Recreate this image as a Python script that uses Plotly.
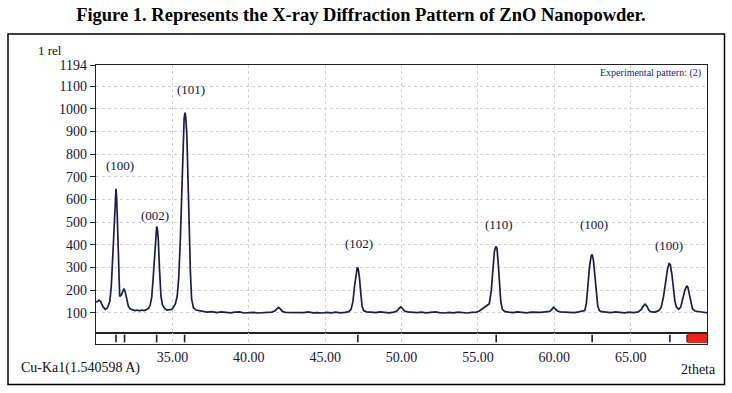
import plotly.graph_objects as go
from plotly.subplots import make_subplots

# ---- data ----
two_theta = [30.00, 30.10, 30.20, 30.30, 30.45, 30.60, 30.75, 30.90, 31.00, 31.10, 31.18, 31.25, 31.31, 31.36,
             31.42, 31.48, 31.55, 31.65, 31.75, 31.83, 31.92, 32.02, 32.12, 32.25, 32.40, 32.55, 32.70, 32.85,
             33.00, 33.15, 33.30, 33.45, 33.55, 33.65, 33.75, 33.85, 33.93, 33.97, 34.02, 34.08, 34.16, 34.25,
             34.35, 34.50, 34.65, 34.80, 34.95, 35.05, 35.20, 35.32, 35.42, 35.52, 35.62, 35.70, 35.77, 35.83,
             35.88, 35.95, 36.02, 36.10, 36.18, 36.26, 36.38, 36.55, 36.75, 37.00, 37.30, 37.60, 37.90, 38.20,
             38.50, 38.80, 39.10, 39.40, 39.70, 40.00, 40.30, 40.60, 40.90, 41.20, 41.50, 41.70, 41.85, 41.95,
             42.05, 42.20, 42.40, 42.70, 43.00, 43.30, 43.60, 43.90, 44.20, 44.50, 44.80, 45.10, 45.40, 45.70,
             46.00, 46.30, 46.55, 46.70, 46.82, 46.93, 47.03, 47.10, 47.16, 47.24, 47.33, 47.42, 47.52, 47.70,
             48.00, 48.30, 48.60, 48.90, 49.20, 49.50, 49.70, 49.85, 49.95, 50.05, 50.20, 50.40, 50.70, 51.00,
             51.30, 51.60, 51.90, 52.20, 52.50, 52.80, 53.10, 53.40, 53.70, 54.00, 54.30, 54.60, 54.90, 55.10,
             55.30, 55.50, 55.75, 55.88, 55.98, 56.08, 56.18, 56.25, 56.33, 56.42, 56.50, 56.60, 56.75, 57.00,
             57.30, 57.60, 57.90, 58.20, 58.50, 58.80, 59.10, 59.40, 59.70, 59.85, 59.95, 60.05, 60.20, 60.40,
             60.70, 61.00, 61.30, 61.60, 61.85, 62.00, 62.10, 62.20, 62.32, 62.42, 62.48, 62.56, 62.65, 62.75,
             62.85, 62.95, 63.10, 63.40, 63.70, 64.00, 64.30, 64.60, 64.90, 65.20, 65.50, 65.70, 65.85, 65.95,
             66.08, 66.20, 66.35, 66.60, 66.85, 67.00, 67.15, 67.30, 67.42, 67.52, 67.60, 67.70, 67.80, 67.90,
             68.00, 68.15, 68.28, 68.40, 68.55, 68.68, 68.75, 68.85, 68.95, 69.05, 69.20, 69.50, 69.80, 70.00]
intensity = [148, 150, 156, 150, 128, 115, 122, 150, 215, 350, 480, 600, 647, 600,
             430, 260, 172, 178, 200, 207, 190, 155, 128, 117, 113, 110, 112, 109,
             112, 110, 114, 120, 135, 170, 260, 380, 470, 481, 470, 420, 290, 175,
             135, 118, 112, 113, 115, 122, 140, 175, 260, 420, 650, 870, 960, 984,
             960, 880, 690, 460, 280, 160, 122, 112, 108, 106, 103, 105, 101, 104,
             102, 100, 103, 104, 99, 101, 102, 99, 101, 100, 103, 108, 118, 124,
             118, 106, 102, 101, 103, 100, 101, 104, 100, 101, 99, 102, 100, 103,
             100, 102, 105, 115, 150, 220, 280, 298, 296, 260, 190, 130, 110, 104,
             103, 101, 104, 102, 100, 103, 108, 120, 126, 120, 108, 104, 102, 101,
             103, 100, 102, 104, 101, 99, 102, 100, 103, 101, 99, 102, 103, 108,
             118, 130, 140, 200, 300, 370, 393, 385, 320, 220, 150, 115, 106, 103,
             101, 104, 102, 100, 103, 101, 102, 104, 106, 115, 124, 118, 108, 104,
             102, 103, 101, 104, 106, 110, 140, 220, 310, 352, 358, 335, 270, 190,
             130, 110, 105, 103, 101, 104, 102, 100, 103, 101, 104, 115, 132, 138,
             128, 110, 104, 103, 110, 125, 170, 240, 295, 317, 312, 270, 200, 150,
             125, 115, 125, 160, 200, 219, 212, 180, 140, 118, 108, 104, 103, 100]

ref_peaks = [31.31, 31.87, 33.97, 35.80, 47.14, 56.20, 62.48, 67.57, 68.70]
red_bar_range = [68.72, 70.0]

hkl_labels = ["(100)", "(002)", "(101)", "(102)", "(110)", "(100)", "(100)"]
hkl_x = [31.57, 33.88, 36.20, 47.22, 56.35, 62.57, 67.53]
hkl_y = [750, 530, 1087, 404, 490, 490, 398]

x_ticks = [35, 40, 45, 50, 55, 60, 65]
x_ticktext = ["35.00", "40.00", "45.00", "50.00", "55.00", "60.00", "65.00"]
y_ticks = [100, 200, 300, 400, 500, 600, 700, 800, 900, 1000, 1100, 1194]

# ---- figure ----
SERIF = "Liberation Serif"
INK = "#15153a"
LINE = "#1c1c4f"
GRID = "#d2d2d2"

fig = make_subplots(rows=2, cols=1, shared_xaxes=True, vertical_spacing=0,
                    row_heights=[0.9606, 0.0394])

fig.add_trace(go.Scatter(x=two_theta, y=intensity, mode="lines",
                         line=dict(color=LINE, width=1.7), hoverinfo="skip",
                         showlegend=False), row=1, col=1)

stick_x, stick_y = [], []
for p in ref_peaks:
    stick_x += [p, p, None]
    stick_y += [0.15, 0.85, None]
fig.add_trace(go.Scatter(x=stick_x, y=stick_y, mode="lines",
                         line=dict(color="#1a1a40", width=1.6),
                         hoverinfo="skip", showlegend=False), row=2, col=1)

fig.add_shape(type="rect", xref="x2", yref="y2",
              x0=red_bar_range[0], x1=red_bar_range[1], y0=0.08, y1=0.92,
              fillcolor="#e8261c", line=dict(width=0), layer="above")

for t, xx, yy in zip(hkl_labels, hkl_x, hkl_y):
    fig.add_annotation(x=xx, y=yy, xref="x", yref="y", text=t, showarrow=False,
                       font=dict(family=SERIF, size=13, color=INK))

# plot area in pixels: left 96, right 707, top 65, bottom 344
L, R, T, B = 96, 707, 65, 344
W, H = R - L, B - T


def px(xp):
    return (xp - L) / W


def py(yp):
    return (B - yp) / H


fig.add_annotation(x=px(36), y=py(50), xref="paper", yref="paper", text="1 rel",
                   showarrow=False, xanchor="left", yanchor="middle",
                   font=dict(family=SERIF, size=13, color="#111"))
fig.add_annotation(x=px(19), y=py(367.5), xref="paper", yref="paper",
                   text="Cu-Ka1(1.540598 A)", showarrow=False, xanchor="left",
                   yanchor="middle", font=dict(family=SERIF, size=14, color="#111"))
fig.add_annotation(x=px(679), y=py(369), xref="paper", yref="paper", text="2theta",
                   showarrow=False, xanchor="left", yanchor="middle",
                   font=dict(family=SERIF, size=14, color="#111"))
fig.add_annotation(x=px(703), y=py(72.5), xref="paper", yref="paper",
                   text="Experimental pattern: (2)", showarrow=False, xanchor="right",
                   yanchor="middle", font=dict(family=SERIF, size=10, color="#1a1f6b"))

# outer frame
fig.add_shape(type="rect", xref="paper", yref="paper",
              x0=px(8), x1=px(724.5), y0=py(384.5), y1=py(34),
              line=dict(color="#000", width=1.5), layer="above")

fig.update_layout(
    width=732, height=393, autosize=False,
    margin=dict(l=L, r=732 - R, t=T, b=393 - B),
    paper_bgcolor="white", plot_bgcolor="white",
    title=dict(text="<b>Figure 1. Represents the X-ray Diffraction Pattern of ZnO Nanopowder.</b>",
               x=0.493, xanchor="center", y=1 - 15 / 393, yanchor="middle",
               font=dict(family=SERIF, size=18.5, color="#000")),
    showlegend=False,
)

fig.update_xaxes(range=[30, 70], tickvals=x_ticks, ticktext=x_ticktext,
                 showgrid=True, gridcolor=GRID, griddash="dot", gridwidth=1,
                 zeroline=False, showline=True, mirror=True, linecolor="#222",
                 linewidth=1.2, ticks="",
                 tickfont=dict(family=SERIF, size=14, color=INK))
fig.update_xaxes(showticklabels=False, row=1, col=1)

fig.update_yaxes(range=[10.7, 1194], tickvals=y_ticks, ticktext=[str(v) for v in y_ticks],
                 showgrid=True, gridcolor=GRID, griddash="dot", gridwidth=1,
                 zeroline=False, showline=True, mirror=True, linecolor="#222",
                 linewidth=1.2, ticks="outside", ticklen=5, tickcolor="#222",
                 tickfont=dict(family=SERIF, size=14, color=INK), row=1, col=1)
fig.update_yaxes(range=[0, 1], showticklabels=False, showgrid=False, zeroline=False,
                 showline=True, mirror=True, linecolor="#222", linewidth=1.2,
                 ticks="", row=2, col=1)

fig.write_html("out.html", config={"displayModeBar": False})

# remove the browser's default page margin so the figure sits at (0, 0)
with open("out.html", "r", encoding="utf-8") as f:
    html = f.read()
html = html.replace("<head>", "<head><style>html,body{margin:0;padding:0;overflow:hidden;}</style>", 1)
with open("out.html", "w", encoding="utf-8") as f:
    f.write(html)
